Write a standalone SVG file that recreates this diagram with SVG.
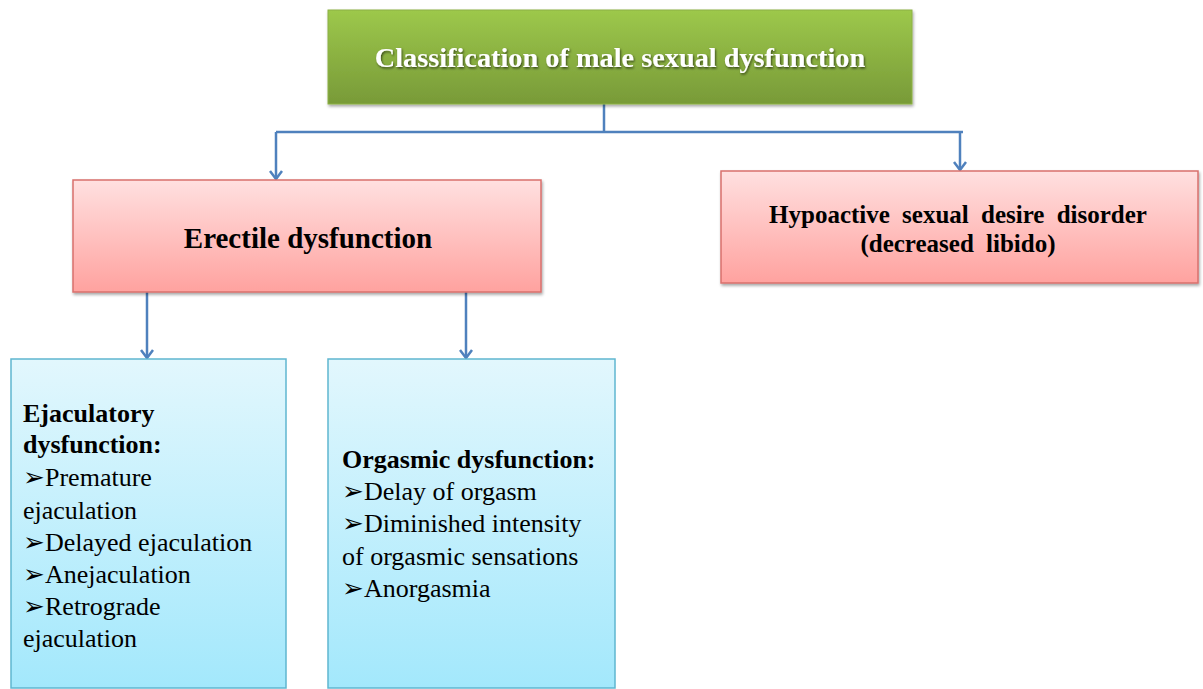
<svg xmlns="http://www.w3.org/2000/svg" width="1203" height="689" viewBox="0 0 1203 689">
<style>
text{font-family:'Liberation Serif','Times New Roman','DejaVu Serif',serif;fill:#000}
.b{font-weight:bold}
.item{font-size:26px}
.conn{fill:none;stroke:#4F81BD;stroke-width:2.5}
</style>
<defs>
<linearGradient id="gG" x1="0" y1="0" x2="0" y2="1"><stop offset="0" stop-color="#9DC84B"/><stop offset="1" stop-color="#789A38"/></linearGradient>
<linearGradient id="gP" x1="0" y1="0" x2="0" y2="1"><stop offset="0" stop-color="#FFE0E0"/><stop offset="1" stop-color="#FFA29F"/></linearGradient>
<linearGradient id="gB" x1="0" y1="0" x2="0" y2="1"><stop offset="0" stop-color="#E2F7FD"/><stop offset="1" stop-color="#A3E8FC"/></linearGradient>
<filter id="sh" x="-5%" y="-5%" width="110%" height="120%"><feDropShadow dx="1" dy="2" stdDeviation="1.5" flood-color="#000" flood-opacity="0.35"/></filter>
<filter id="ts" x="-5%" y="-20%" width="110%" height="150%"><feDropShadow dx="1" dy="1.5" stdDeviation="1" flood-color="#000" flood-opacity="0.6"/></filter>
<marker id="arr" markerWidth="12" markerHeight="14" refX="10" refY="7" orient="auto" markerUnits="userSpaceOnUse" viewBox="0 0 12 14">
<path d="M2,1 L10,7 L2,13" fill="none" stroke="#4F81BD" stroke-width="2.5"/>
</marker>
</defs>
<g id="connectors">
<path class="conn" d="M604,104 V132"/>
<path class="conn" d="M276,132 H963"/>
<path class="conn" d="M276,132 V179" marker-end="url(#arr)"/>
<path class="conn" d="M960,132 V170" marker-end="url(#arr)"/>
<path class="conn" d="M147,292 V358" marker-end="url(#arr)"/>
<path class="conn" d="M466,292 V358" marker-end="url(#arr)"/>
</g>
<g id="root">
<rect x="328" y="10" width="584" height="94" fill="url(#gG)" stroke="#8CB044" stroke-width="1" filter="url(#sh)"/>
<text x="620" y="67" text-anchor="middle" font-size="28.3" font-weight="bold" style="fill:#fff" filter="url(#ts)">Classification of male sexual dysfunction</text>
</g>
<g id="erectile">
<rect x="73" y="180" width="468" height="112" fill="url(#gP)" stroke="#D9706C" stroke-width="1.5" filter="url(#sh)"/>
<text class="b" x="308" y="248" text-anchor="middle" font-size="29">Erectile dysfunction</text>
</g>
<g id="hypoactive">
<rect x="721" y="171" width="477" height="112" fill="url(#gP)" stroke="#D9706C" stroke-width="1.5" filter="url(#sh)"/>
<text class="b" x="958" y="223" text-anchor="middle" font-size="25" word-spacing="6">Hypoactive sexual desire disorder</text>
<text class="b" x="958" y="252" text-anchor="middle" font-size="25" word-spacing="6">(decreased libido)</text>
</g>
<g id="ejaculatory">
<rect x="11" y="359" width="275" height="329" fill="url(#gB)" stroke="#5FB6D0" stroke-width="1.5"/>
<text class="item" x="23" y="422"><tspan class="b">Ejaculatory</tspan><tspan class="b" x="23" y="453">dysfunction:</tspan><tspan x="23" y="486">➢Premature</tspan><tspan x="23" y="519">ejaculation</tspan><tspan x="23" y="551">➢Delayed ejaculation</tspan><tspan x="23" y="583">➢Anejaculation</tspan><tspan x="23" y="615">➢Retrograde</tspan><tspan x="23" y="647">ejaculation</tspan></text>
</g>
<g id="orgasmic">
<rect x="328" y="359" width="287" height="329" fill="url(#gB)" stroke="#5FB6D0" stroke-width="1.5"/>
<text class="item" x="342" y="468"><tspan class="b">Orgasmic dysfunction:</tspan><tspan x="342" y="500">➢Delay of orgasm</tspan><tspan x="342" y="532">➢Diminished intensity</tspan><tspan x="342" y="565">of orgasmic sensations</tspan><tspan x="342" y="597">➢Anorgasmia</tspan></text>
</g>
</svg>
